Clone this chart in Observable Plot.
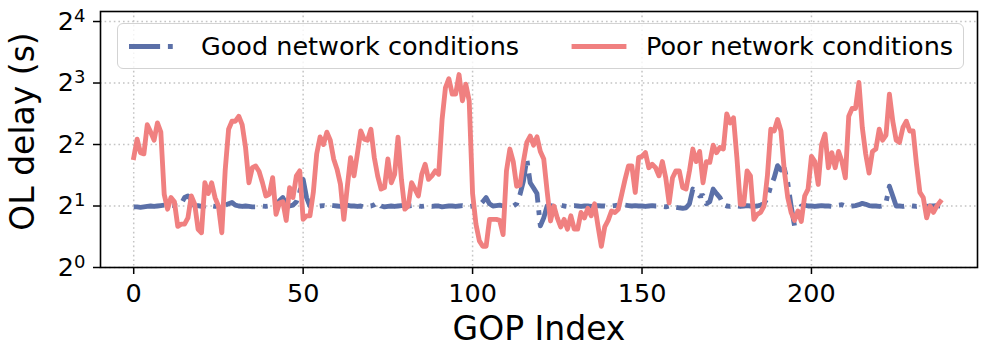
<!DOCTYPE html>
<html>
<head>
<meta charset="utf-8">
<script src="https://cdn.jsdelivr.net/npm/d3@7"></script>
<script src="https://cdn.jsdelivr.net/npm/@observablehq/plot@0.6"></script>
<style>
  html, body { margin: 0; padding: 0; background: white; }
  #wrap { position: relative; width: 997px; height: 356px; font-family: "DejaVu Sans", sans-serif; }
  #legend { position: absolute; left: 117px; top: 23px; width: 847px; height: 46px; box-sizing: border-box;
            border: 1.4px solid #d3d3d3; border-radius: 6px; background: rgba(255,255,255,0.8); }
  #legend svg { position: absolute; left: 0; top: 0; overflow: visible; }
</style>
</head>
<body>
<div id="wrap"></div>
<script>
// ---- data ----
const seriesNames = ["Good network conditions", "Poor network conditions"];
const xTicks = [0, 50, 100, 150, 200];
const yTicks = [1, 2, 4, 8, 16];

// OL delay (s), one value per GOP index (0..238)
const good = [
  1.98,1.98,1.97,1.98,1.99,2.0,1.99,2.0,2.01,2.02,2.01,2.02,2.01,2.0,2.05,
  2.2,2.24,2.15,2.0,2.01,1.99,2.0,2.02,2.0,1.99,2.01,2.0,2.02,2.05,2.08,
  2.02,2.0,1.99,2.0,1.99,1.98,1.98,1.99,2.0,1.99,2.0,2.02,2.05,2.12,2.2,
  2.05,2.0,2.02,2.1,2.35,2.7,2.2,2.0,1.99,1.99,2.0,2.01,2.0,2.02,2.01,
  2.0,1.99,2.0,2.02,2.0,2.0,1.99,2.0,1.98,1.99,2.0,2.03,2.08,2.0,1.98,
  1.99,2.0,1.99,2.0,2.01,2.02,2.0,2.01,2.02,2.0,1.99,2.0,2.0,1.99,2.0,
  2.0,1.98,1.99,2.0,2.0,1.99,2.0,2.01,2.0,1.99,2.0,2.01,2.02,2.1,2.2,
  2.05,2.0,2.01,2.02,2.0,2.0,2.01,2.0,2.05,2.28,2.65,3.4,2.6,2.45,2.3,
  1.6,1.75,2.0,2.01,1.99,2.0,2.02,2.0,1.99,2.0,2.01,2.0,1.99,2.0,2.0,
  1.99,2.0,2.01,2.0,2.0,1.99,2.0,2.01,2.02,2.03,2.02,2.01,2.0,2.01,2.0,
  2.0,1.99,2.0,2.01,2.0,2.0,1.99,1.98,2.0,2.0,1.97,1.96,1.95,1.96,2.05,
  2.42,2.35,2.24,2.25,2.05,2.1,2.42,2.3,2.2,2.03,2.0,1.99,2.0,2.0,1.99,
  2.0,2.01,2.0,1.99,2.0,2.02,2.05,2.2,2.5,2.75,3.15,3.0,3.05,2.6,2.0,
  1.6,1.75,2.0,2.02,2.0,2.0,1.99,2.0,2.01,2.0,2.0,1.99,2.0,2.02,2.03,
  2.0,1.99,2.0,2.01,2.03,2.06,2.04,2.01,2.0,2.0,1.99,2.0,2.08,2.5,2.24,
  2.0,2.0,1.99,2.0,2.01,2.0,1.99,2.0,2.0,1.99,2.0,2.0,2.01,2.0
];
const poor = [
  3.45,4.25,3.65,3.6,5.0,4.6,4.2,5.1,4.6,2.28,1.93,2.2,2.1,1.59,1.63,
  1.63,1.75,2.24,2.04,1.54,1.48,2.6,2.3,2.6,2.2,2.0,1.48,3.0,4.75,5.2,
  5.2,5.5,5.0,3.87,2.6,3.08,3.14,2.95,2.6,2.24,2.28,2.75,1.82,2.07,2.1,
  1.70,2.46,2.2,2.81,2.97,1.72,1.79,1.79,2.33,3.6,4.36,4.0,4.6,4.2,3.4,
  3.03,2.56,1.72,2.46,3.45,2.81,3.6,4.66,4.25,4.2,4.75,3.45,2.8,2.42,2.46,
  3.4,2.6,2.86,4.35,2.7,1.93,2.0,2.6,2.42,2.24,2.86,3.2,2.7,2.81,2.97,
  2.86,5.3,7.6,8.4,7.06,7.06,8.8,6.55,7.9,6.55,2.3,1.63,1.35,1.27,1.27,
  1.72,1.72,1.72,1.70,1.45,2.97,3.8,3.3,2.5,2.53,3.3,4.1,4.4,3.97,4.36,
  3.7,3.4,2.36,1.69,2.0,1.75,1.58,1.72,1.54,1.79,1.54,1.54,1.86,1.75,1.95,
  1.79,2.05,1.6,1.27,1.58,1.70,1.89,1.86,1.93,2.28,2.7,3.14,3.14,2.33,3.45,
  3.5,3.65,3.08,3.2,3.08,2.81,3.3,2.75,2.07,2.75,2.97,2.97,2.46,2.42,2.97,
  3.8,3.3,3.7,2.6,3.3,3.27,3.97,3.65,3.87,3.8,5.65,5.1,5.4,3.45,2.04,
  2.04,2.97,2.81,1.72,1.82,1.86,2.0,2.81,4.75,4.66,5.3,4.66,2.97,2.2,1.86,
  1.70,1.89,1.68,2.24,2.42,3.5,3.3,2.55,4.0,4.5,3.08,3.65,3.08,3.7,3.3,
  2.75,5.5,6.0,6.0,8.05,4.85,3.6,2.9,3.7,3.8,4.75,4.2,4.45,7.06,5.2,
  4.2,4.1,4.85,5.2,4.66,4.66,3.2,2.33,2.2,1.75,2.0,1.86,2.0,2.1
];

const colors = ["#5b70a8", "#f08080"];
const lw = 4.86;
const dashDot = [31.1, 7.8, 4.86, 7.8].join(" ");

const chart = Plot.plot({
  width: 997,
  height: 356,
  marginLeft: 100,
  marginRight: 20,
  marginTop: 11,
  marginBottom: 89,
  style: { fontFamily: "DejaVu Sans, sans-serif", fontSize: "25px", color: "black", background: "white" },
  x: { domain: [-9.8, 249], label: null },
  y: { type: "log", base: 2, domain: [1, Math.pow(2, 4.163)], label: null },
  marks: [
    Plot.gridX(xTicks, { stroke: "#c4c4c4", strokeOpacity: 1, strokeWidth: 1.5, strokeDasharray: "1.6 3" }),
    Plot.gridY(yTicks, { stroke: "#c4c4c4", strokeOpacity: 1, strokeWidth: 1.5, strokeDasharray: "1.6 3" }),
    Plot.lineY(good, { x: (d, i) => i, y: d => d, stroke: colors[0], strokeWidth: lw,
      strokeDasharray: dashDot, strokeLinecap: "butt", strokeLinejoin: "round" }),
    Plot.lineY(poor, { x: (d, i) => i, y: d => d, stroke: colors[1], strokeWidth: lw,
      strokeLinecap: "square", strokeLinejoin: "round" }),
    Plot.frame({ stroke: "black", strokeWidth: 1.6 }),
    Plot.axisX(xTicks, { tickSize: 7, tickPadding: 9, strokeWidth: 1.5, fontSize: 25.5, label: null }),
    Plot.axisY(yTicks, { tickSize: 7, tickPadding: 8, strokeWidth: 1.5, fontSize: 25.5, label: null,
      tickFormat: d => String(Math.round(Math.log2(d))) }),
    Plot.text(["GOP Index"], { text: d => d, frameAnchor: "bottom", textAnchor: "middle", lineAnchor: "middle",
      dy: 62, fontSize: 33 }),
    Plot.text(["OL delay (s)"], { text: d => d, frameAnchor: "left", textAnchor: "middle", lineAnchor: "middle",
      dx: -77, dy: -8, rotate: -90, fontSize: 33 })
  ]
});

// y tick labels as 2 with superscript exponent
d3.select(chart).selectAll('g[aria-label="y-axis tick label"] text').each(function () {
  const exp = this.textContent;
  const t = d3.select(this);
  t.text("2");
  t.append("tspan").attr("font-size", 18).attr("dy", -8).text(exp);
});

const wrap = document.getElementById("wrap");
wrap.appendChild(chart);

// legend
const legend = document.createElement("div");
legend.id = "legend";
wrap.appendChild(legend);
const ls = d3.select(legend).append("svg").attr("width", 847).attr("height", 46);
const items = [
  { x0: 11, x1: 61, tx: 83, dash: dashDot, cap: "butt" },
  { x0: 456, x1: 506, tx: 528, dash: null, cap: "square" }
];
items.forEach((it, k) => {
  const ln = ls.append("line").attr("x1", it.x0).attr("x2", it.x1).attr("y1", 22.5).attr("y2", 22.5)
    .attr("stroke", colors[k]).attr("stroke-width", lw).attr("stroke-linecap", it.cap);
  if (it.dash) ln.attr("stroke-dasharray", it.dash);
  ls.append("text").attr("x", it.tx).attr("y", 31).attr("font-family", "DejaVu Sans, sans-serif")
    .attr("font-size", 25.5).attr("fill", "black").text(seriesNames[k]);
});
</script>
</body>
</html>
